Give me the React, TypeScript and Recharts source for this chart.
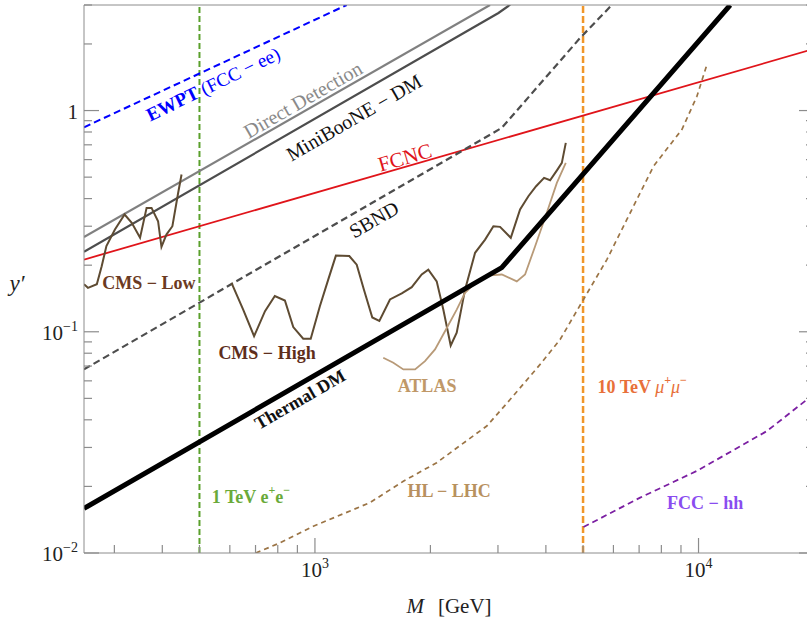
import React from 'react';
import {
  LineChart, Line, XAxis, YAxis, ReferenceLine, ReferenceDot,
} from 'recharts';

// mass grid (GeV) and coupling values
const ewptM = [250, 1210];
const ewptY = [0.84, 3.0];

const directM = [250, 2860];
const directY = [0.268, 3.0];

const minibooneM = [250, 3009, 3228];
const minibooneY = [0.23, 2.76, 3.01];

const fcncM = [250, 20000];
const fcncY = [0.212, 1.9];

const sbndM = [250, 3070, 4913, 5943];
const sbndY = [0.0676, 0.835, 2.13, 3.0];

const thermalM = [250, 3069, 12094];
const thermalY = [0.0159, 0.195, 3.0];

const cmsLowM = [250, 256, 270, 278, 286, 301, 319, 333, 350, 364, 375, 390, 398, 410, 425, 440, 449];
const cmsLowY = [0.164, 0.158, 0.164, 0.198, 0.244, 0.29, 0.339, 0.311, 0.266, 0.363, 0.363, 0.316, 0.242, 0.275, 0.3, 0.425, 0.514];

const cmsHighM = [606, 650, 694, 741, 786, 835, 878, 932, 975, 1030, 1083, 1134, 1229, 1285, 1342, 1411, 1472, 1569, 1684, 1788, 1898, 1975, 2077, 2161, 2259, 2342, 2462, 2615, 2777, 2919, 3038, 3240, 3426, 3601, 3772, 3957, 4103, 4287, 4402, 4508];
const cmsHighY = [0.1665, 0.126, 0.0955, 0.124, 0.145, 0.1385, 0.105, 0.093, 0.093, 0.1305, 0.172, 0.221, 0.22, 0.201, 0.155, 0.116, 0.112, 0.14, 0.149, 0.159, 0.1815, 0.191, 0.169, 0.126, 0.0867, 0.099, 0.155, 0.2275, 0.261, 0.3, 0.298, 0.266, 0.357, 0.41, 0.455, 0.4965, 0.484, 0.541, 0.58, 0.7145];

const atlasM = [1507, 1601, 1700, 1824, 1936, 2056, 2183, 2342, 2462, 2642, 2861, 3070, 3359, 3530, 3750, 4022, 4272, 4508];
const atlasY = [0.0763, 0.0724, 0.0676, 0.0676, 0.0737, 0.0832, 0.1006, 0.126, 0.15, 0.169, 0.18, 0.1815, 0.169, 0.1815, 0.2436, 0.345, 0.471, 0.58];

const hlLhcM = [701, 810, 990, 1392, 1700, 2077, 2805, 3227, 3864, 4357, 5012, 5768, 6505, 7632, 9051, 9904, 10517];
const hlLhcY = [0.01, 0.0111, 0.0132, 0.0169, 0.0211, 0.0256, 0.0375, 0.0494, 0.0712, 0.0923, 0.14, 0.212, 0.322, 0.56, 0.821, 1.16, 1.614];

const fccHhM = [5012, 7045, 9904, 15085, 19180, 20000];
const fccHhY = [0.0131, 0.0178, 0.0235, 0.0356, 0.0494, 0.0524];

const xTicks = [300, 400, 500, 600, 700, 800, 900, 1000, 2000, 3000, 4000, 5000, 6000, 7000, 8000, 9000, 10000, 20000];
const yTicks = [0.01, 0.02, 0.03, 0.04, 0.05, 0.06, 0.07, 0.08, 0.09, 0.1, 0.2, 0.3, 0.4, 0.5, 0.6, 0.7, 0.8, 0.9, 1, 2, 3];

const eeMass = 500;
const mumuMass = 5000;

const pts = (m: number[], y: number[]) => m.map((v, i) => ({ x: v, y: y[i] }));

const AXIS = '#8c8c8c';
const FONT = '"Liberation Serif", "DejaVu Serif", serif';

const exp10 = (v: number) => Math.round(Math.log10(v));
const isMajor = (v: number) => Math.abs(Math.log10(v) - exp10(v)) < 1e-9;

const Pow = ({ v }: { v: number }) => {
  const e = exp10(v);
  if (e === 0) return <>1</>;
  const s = e < 0 ? `\u2212${-e}` : `${e}`;
  return (
    <>
      10<tspan dy={-9} fontSize={14}>{s}</tspan>
    </>
  );
};

const BottomTick = (p: any) => {
  const v = p.payload.value;
  const major = isMajor(v);
  return (
    <g>
      <line x1={p.x} y1={p.y} x2={p.x} y2={p.y - (major ? 15 : 8)} stroke={AXIS} strokeWidth={1.2} />
      {major && (
        <text x={p.x} y={p.y + 24} textAnchor="middle" fontFamily={FONT} fontSize={21} fill="#222">
          <Pow v={v} />
        </text>
      )}
    </g>
  );
};

const TopTick = (p: any) => {
  const major = isMajor(p.payload.value);
  return <line x1={p.x} y1={p.y} x2={p.x} y2={p.y + (major ? 15 : 8)} stroke={AXIS} strokeWidth={1.2} />;
};

const LeftTick = (p: any) => {
  const v = p.payload.value;
  const major = isMajor(v);
  return (
    <g>
      <line x1={p.x} y1={p.y} x2={p.x + (major ? 15 : 8)} y2={p.y} stroke={AXIS} strokeWidth={1.2} />
      {major && (
        <text x={p.x - 6} y={p.y + 8} textAnchor="end" fontFamily={FONT} fontSize={21} fill="#222">
          <Pow v={v} />
        </text>
      )}
    </g>
  );
};

const RightTick = (p: any) => {
  const major = isMajor(p.payload.value);
  return <line x1={p.x} y1={p.y} x2={p.x - (major ? 15 : 8)} y2={p.y} stroke={AXIS} strokeWidth={1.2} />;
};

type Lbl = { m: number; y: number; text: React.ReactNode; color: string; rot?: number; bold?: boolean; size?: number };

const LABELS: Lbl[] = [
  { m: 542, y: 1.32, rot: -26, size: 19, color: '#0000ff', bold: true, text: <>EWPT <tspan fontWeight="normal">(FCC − ee)</tspan></> },
  { m: 930, y: 1.12, rot: -30, size: 20, color: '#8a8a8a', text: 'Direct Detection' },
  { m: 1264, y: 0.93, rot: -30, size: 20, color: '#111', text: 'MiniBooNE − DM' },
  { m: 1717, y: 0.613, rot: -16, size: 21, color: '#e0141a', text: 'FCNC' },
  { m: 1425, y: 0.322, rot: -30, size: 20, color: '#111', text: 'SBND' },
  { m: 369, y: 0.167, size: 18, color: '#6b3a22', bold: true, text: 'CMS − Low' },
  { m: 750, y: 0.0798, size: 18, color: '#5e2e1c', bold: true, text: 'CMS − High' },
  { m: 1960, y: 0.0566, size: 18, color: '#c09868', bold: true, text: 'ATLAS' },
  { m: 914, y: 0.0494, rot: -30, size: 18, color: '#111', bold: true, text: 'Thermal DM' },
  { m: 681, y: 0.018, size: 18, color: '#6aaa3a', bold: true, text: <>1 TeV e<tspan dy={-7} fontSize={12}>+</tspan><tspan dy={7}>e</tspan><tspan dy={-7} fontSize={12}>−</tspan></> },
  { m: 2237, y: 0.019, size: 18, color: '#b8915f', bold: true, text: 'HL − LHC' },
  { m: 7131, y: 0.056, size: 18, color: '#e8703a', bold: true, text: <>10 TeV <tspan fontStyle="italic" fontWeight="normal">μ</tspan><tspan dy={-7} fontSize={12}>+</tspan><tspan dy={7} fontStyle="italic" fontWeight="normal">μ</tspan><tspan dy={-7} fontSize={12}>−</tspan></> },
  { m: 10411, y: 0.0169, size: 18, color: '#8a4cf0', bold: true, text: 'FCC − hh' },
];

const labelShape = (l: Lbl) => (p: any) => (
  <text
    x={p.cx}
    y={p.cy}
    textAnchor="middle"
    dominantBaseline="central"
    transform={l.rot ? `rotate(${l.rot} ${p.cx} ${p.cy})` : undefined}
    fontFamily={FONT}
    fontSize={l.size ?? 17}
    fontWeight={l.bold ? 'bold' : 'normal'}
    fill={l.color}
  >
    {l.text}
  </text>
);

export default function App() {
  return (
    <div style={{ position: 'absolute', left: 0, top: 0, width: 807, height: 622, overflow: 'hidden', background: '#fff' }}>
      <LineChart width={830} height={622} margin={{ top: 0, right: 0, bottom: 0, left: 0 }}>
        <XAxis
          xAxisId={0}
          type="number"
          dataKey="x"
          scale="log"
          domain={[250, 20000]}
          allowDataOverflow
          ticks={xTicks}
          interval={0}
          tickSize={0}
          tickMargin={0}
          tick={BottomTick}
          height={69}
          stroke={AXIS}
        />
        <XAxis
          xAxisId="top"
          orientation="top"
          type="number"
          scale="log"
          domain={[250, 20000]}
          allowDataOverflow
          ticks={xTicks}
          interval={0}
          tickSize={0}
          tickMargin={0}
          tick={TopTick}
          height={5}
          stroke={AXIS}
        />
        <YAxis
          yAxisId={0}
          type="number"
          dataKey="y"
          scale="log"
          domain={[0.01, 3]}
          allowDataOverflow
          ticks={yTicks}
          interval={0}
          tickSize={0}
          tickMargin={0}
          tick={LeftTick}
          width={84}
          stroke={AXIS}
        />
        <YAxis
          yAxisId="right"
          orientation="right"
          type="number"
          scale="log"
          domain={[0.01, 3]}
          allowDataOverflow
          ticks={yTicks}
          interval={0}
          tickSize={0}
          tickMargin={0}
          tick={RightTick}
          width={16}
          stroke={AXIS}
        />

        <ReferenceLine x={eeMass} stroke="#5aa02c" strokeWidth={2} strokeDasharray="6 3" />
        <ReferenceLine x={mumuMass} stroke="#f0962a" strokeWidth={2.5} strokeDasharray="7 3" />

        <Line data={pts(ewptM, ewptY)} dataKey="y" stroke="#0000ff" strokeWidth={2} strokeDasharray="7 4" dot={false} isAnimationActive={false} />
        <Line data={pts(directM, directY)} dataKey="y" stroke="#808080" strokeWidth={2.2} dot={false} isAnimationActive={false} />
        <Line data={pts(minibooneM, minibooneY)} dataKey="y" stroke="#4d4d4d" strokeWidth={2.2} dot={false} isAnimationActive={false} />
        <Line data={pts(fcncM, fcncY)} dataKey="y" stroke="#e0141a" strokeWidth={1.8} dot={false} isAnimationActive={false} />
        <Line data={pts(sbndM, sbndY)} dataKey="y" stroke="#4d4d4d" strokeWidth={2.2} strokeDasharray="7 4" dot={false} isAnimationActive={false} />
        <Line data={pts(cmsLowM, cmsLowY)} dataKey="y" stroke="#5e4b32" strokeWidth={2} dot={false} isAnimationActive={false} />
        <Line data={pts(cmsHighM, cmsHighY)} dataKey="y" stroke="#5e4b32" strokeWidth={2} dot={false} isAnimationActive={false} />
        <Line data={pts(atlasM, atlasY)} dataKey="y" stroke="#b89a78" strokeWidth={1.8} dot={false} isAnimationActive={false} />
        <Line data={pts(hlLhcM, hlLhcY)} dataKey="y" stroke="#9b7445" strokeWidth={1.7} strokeDasharray="5 4" dot={false} isAnimationActive={false} />
        <Line data={pts(fccHhM, fccHhY)} dataKey="y" stroke="#7b1fa2" strokeWidth={1.8} strokeDasharray="6 4" dot={false} isAnimationActive={false} />
        <Line data={pts(thermalM, thermalY)} dataKey="y" stroke="#000" strokeWidth={5} dot={false} isAnimationActive={false} />

        {LABELS.map((l, i) => (
          <ReferenceDot key={i} x={l.m} y={l.y} r={0} ifOverflow="visible" shape={labelShape(l)} />
        ))}

        <text x={17} y={283} textAnchor="middle" dominantBaseline="central" fontFamily={FONT} fontSize={23} fontStyle="italic" fill="#222">
          y′
        </text>
        <text x={449} y={613} textAnchor="middle" fontFamily={FONT} fontSize={21} fill="#222">
          <tspan fontStyle="italic">M</tspan>
          <tspan dx={14}>[GeV]</tspan>
        </text>
      </LineChart>
    </div>
  );
}
